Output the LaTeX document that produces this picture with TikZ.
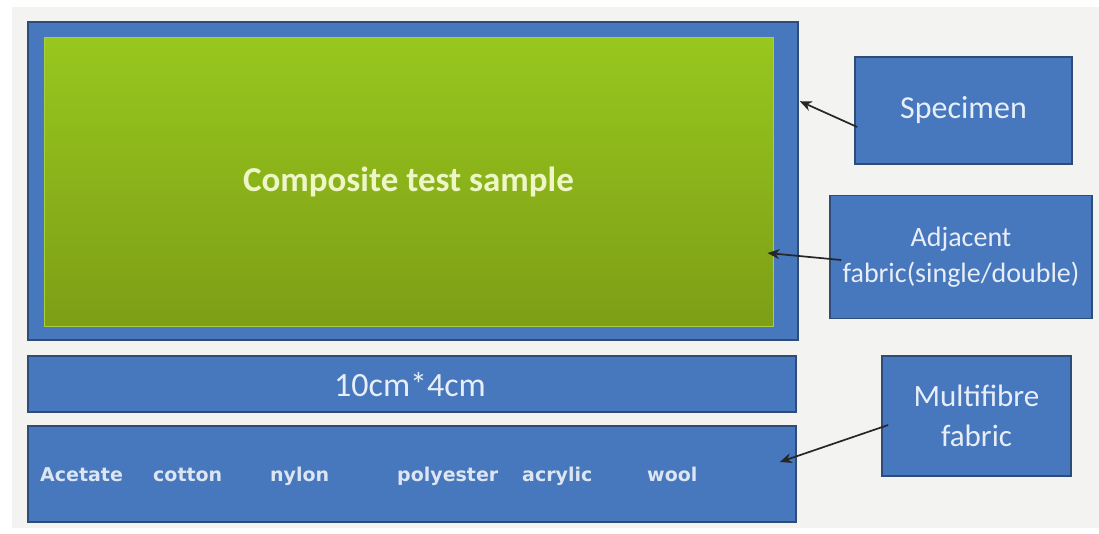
\documentclass[tikz,border=0pt]{standalone}
\usepackage{fontspec}
\setmainfont{Carlito}
\newfontfamily\labelfont{DejaVu Sans}
\usetikzlibrary{calc,arrows.meta}

\definecolor{pagegray}{HTML}{F3F3F1}
\definecolor{boxblue}{HTML}{4777BD}
\definecolor{boxedge}{HTML}{2E4C78}
\definecolor{greentop}{HTML}{98C71E}
\definecolor{greenbot}{HTML}{7D9E16}
\definecolor{greenedge}{HTML}{A9CF3E}
\definecolor{paletext}{HTML}{E8EEF8}
\definecolor{greentext}{HTML}{EEF6C6}
\definecolor{fibretext}{HTML}{DCE5F2}

\tikzset{
  bluebox/.style={draw=boxedge, line width=1.6pt, fill=boxblue, inner sep=0pt,
    text=paletext, align=center},
  fibrelabel/.style={font=\labelfont\bfseries\fontsize{19}{19}\selectfont,
    text=fibretext, anchor=base west, inner sep=0pt},
  pointer/.style={draw=black!85, line width=1.7pt,
    -{Stealth[length=12pt,width=10pt]}}
}

\begin{document}
\begin{tikzpicture}[x=1pt,y=-1pt]
  \useasboundingbox (0,0) rectangle (1099,533);
  \fill[white] (0,0) rectangle (1099,533);
  \fill[pagegray] (12,7) rectangle (1099,528);

  % specimen frame with the composite sample on it
  \node[bluebox, minimum width=770pt, minimum height=318pt] (outer) at (413,181) {};
  \node[draw=greenedge, line width=1pt, top color=greentop, bottom color=greenbot,
        minimum width=729pt, minimum height=289pt, inner sep=0pt,
        text=greentext, font=\bfseries\fontsize{35}{35}\selectfont]
        (green) at (408.5,181.5) {Composite test sample};

  % size strip
  \node[bluebox, minimum width=768pt, minimum height=56pt] (size) at (412,384) {};
  \node[text=paletext, font=\fontsize{34}{34}\selectfont, inner sep=0pt]
        (sizetext) at (410,385) {10cm*4cm};

  % multifibre strip
  \node[bluebox, minimum width=768pt, minimum height=96pt] (fibre) at (412,474) {};
  \node[fibrelabel] (f1) at (40,481) {Acetate};
  \node[fibrelabel] (f2) at (153,481) {cotton};
  \node[fibrelabel] (f3) at (270,481) {nylon};
  \node[fibrelabel] (f4) at (397,481) {polyester};
  \node[fibrelabel] (f5) at (522,481) {acrylic};
  \node[fibrelabel] (f6) at (647,481) {wool};

  % callout boxes
  \node[bluebox, minimum width=217pt, minimum height=107pt,
        font=\fontsize{32}{32}\selectfont] (spec) at (963.5,110.5) {Specimen};
  \node[bluebox, minimum width=262pt, minimum height=123pt,
        font=\fontsize{28}{36}\selectfont] (adj) at (961,257)
        {Adjacent\\fabric(single/double)};
  \node[bluebox, minimum width=189pt, minimum height=120pt,
        font=\fontsize{31}{40}\selectfont] (multi) at (976.5,416)
        {Multifibre\\fabric};

  % pointer ends
  \coordinate (specfrom) at ($(spec.west)+(3,16.5)$);
  \coordinate (specto)   at ($(outer.north east)+(1,80)$);
  \coordinate (adjfrom)  at ($(adj.west)+(12,3)$);
  \coordinate (adjto)    at ($(green.east)+(-6,71.5)$);
  \coordinate (multifrom) at ($(multi.west)+(7,9)$);
  \coordinate (multito)  at ($(fibre.east)+(-17,-12)$);

  \draw[pointer] (specfrom) -- (specto);
  \draw[pointer] (adjfrom) -- (adjto);
  \draw[pointer] (multifrom) -- (multito);
\end{tikzpicture}
\end{document}
